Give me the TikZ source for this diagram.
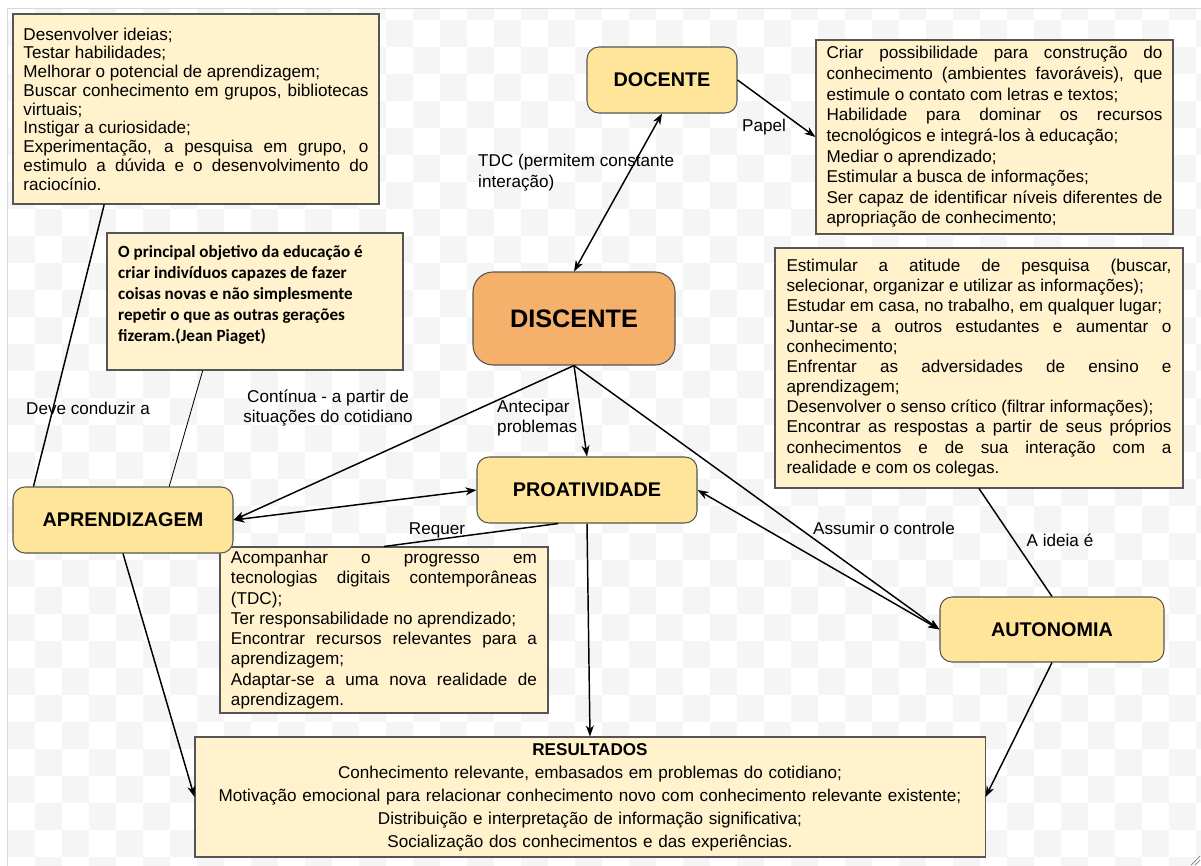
\documentclass[tikz,border=0pt]{standalone}
\usepackage{fontspec}
\setmainfont{Liberation Sans}
\newfontfamily\calibri{Carlito}
\usetikzlibrary{arrows.meta,calc}
\definecolor{boxfill}{HTML}{FFF2CC}
\definecolor{nodefill}{HTML}{FFE599}
\definecolor{discfill}{HTML}{F5B06B}
\definecolor{edgecol}{HTML}{555555}
\definecolor{checker}{HTML}{F5F5F5}
\definecolor{framecol}{HTML}{D8D8D8}
\hyphenpenalty=10000
\exhyphenpenalty=10000
\begin{document}
\begin{tikzpicture}[x=0.03cm,y=-0.03cm,
  textbox/.style={draw=edgecol, line width=0.9pt, fill=boxfill, inner sep=0pt, align=justify},
  concept/.style={draw=edgecol, line width=0.9pt, fill=nodefill, rounded corners=0.36cm, inner sep=0pt,
    font=\fontsize{16.9pt}{20pt}\selectfont\bfseries, minimum width=6.6cm, minimum height=1.98cm},
  lbl/.style={inner sep=0pt, font=\fontsize{14.6pt}{17.6pt}\selectfont},
  conn/.style={line width=1.25pt, black},
  arr/.style={conn, -{Stealth[length=3.3mm,width=2.4mm,inset=1mm]}},
  dbl/.style={conn, {Stealth[length=3.3mm,width=2.4mm,inset=1mm]}-{Stealth[length=3.3mm,width=2.4mm,inset=1mm]}},
  plain/.style={conn},
]
\useasboundingbox (0,0) rectangle (1201,866);
\fill[white] (0,0) rectangle (1201,866);
\begin{scope}
  \clip (7,8) rectangle (1201,866);
  \foreach \i in {0,...,44}{
    \foreach \j in {-1,...,31}{
      \pgfmathtruncatemacro\chk{mod(\i+\j+2,2)}
      \ifnum\chk=0
        \fill[checker] ({8+27*\i},{20+27*\j}) rectangle ++(27,27);
      \fi
    }
  }
\end{scope}
\draw[framecol, line width=0.8pt] (7,866) -- (7,8) -- (1201,8);
\draw[gray, line width=0.6pt] (1191,865) -- (1200,856) (1195,865) -- (1200,860);

% text boxes
\node[textbox, minimum width=10.98cm, minimum height=5.7cm, text width=10.35cm,
  font=\fontsize{14.6pt}{16pt}\selectfont] (TL) at (196,109) {Desenvolver ideias;\\
Testar habilidades;\\
Melhorar o potencial de aprendizagem;\\
Buscar conhecimento em grupos, bibliotecas\linebreak virtuais;\\
Instigar a curiosidade;\\
Experimentação, a pesquisa em grupo, o\linebreak estimulo a dúvida e o desenvolvimento do\linebreak raciocínio.};

\node[textbox, minimum width=8.88cm, minimum height=4.11cm] (Q) at (255,301.5) {};
\node[inner sep=0pt, anchor=north west, align=left, font=\calibri\bfseries\fontsize{14.6pt}{17.9pt}\selectfont] (Qt) at (118,245)
{O principal objetivo da educação é\\criar indivíduos capazes de fazer\\coisas novas e não simplesmente\\repetir o que as outras gerações\\fizeram.(Jean Piaget)};

\node[textbox, minimum width=10.71cm, minimum height=5.82cm, text width=10.08cm,
  font=\fontsize{14.6pt}{17.6pt}\selectfont] (TR) at (994.5,137) {Criar possibilidade para construção do\linebreak conhecimento (ambientes favoráveis), que\linebreak estimule o contato com letras e textos;\\
Habilidade para dominar os recursos\linebreak tecnológicos e integrá-los à educação;\\
Mediar o aprendizado;\\
Estimular a busca de informações;\\
Ser capaz de identificar níveis diferentes de\linebreak apropriação de conhecimento;};

\node[textbox, minimum width=12.24cm, minimum height=7.2cm, text width=11.55cm,
  font=\fontsize{14.6pt}{17.2pt}\selectfont] (R) at (979,368) {Estimular a atitude de pesquisa (buscar,\linebreak selecionar, organizar e utilizar as informações);\\
Estudar em casa, no trabalho, em qualquer lugar;\\
Juntar-se a outros estudantes e aumentar o\linebreak conhecimento;\\
Enfrentar as adversidades de ensino e\linebreak aprendizagem;\\
Desenvolver o senso crítico (filtrar informações);\\
Encontrar as respostas a partir de seus próprios\linebreak conhecimentos e de sua interação com a\linebreak realidade e com os colegas.};

\node[textbox, minimum width=9.84cm, minimum height=4.98cm, text width=9.18cm,
  font=\fontsize{14.6pt}{17.3pt}\selectfont] (RQ) at (384,630) {Acompanhar o progresso em\linebreak tecnologias digitais contemporâneas\linebreak (TDC);\\
Ter responsabilidade no aprendizado;\\
Encontrar recursos relevantes para a\linebreak aprendizagem;\\
Adaptar-se a uma nova realidade de\linebreak aprendizagem.};

\node[textbox, align=center, minimum width=23.7cm, minimum height=3.6cm, text width=23cm,
  font=\fontsize{14.6pt}{19.6pt}\selectfont] (RS) at (590,797) {{\bfseries RESULTADOS}\\
Conhecimento relevante, embasados em problemas do cotidiano;\\
Motivação emocional para relacionar conhecimento novo com conhecimento relevante existente;\\
Distribuição e interpretação de informação significativa;\\
Socialização dos conhecimentos e das experiências.};

% concept nodes
\node[concept, minimum width=4.5cm] (D) at (662,80) {DOCENTE};
\node[concept, fill=discfill, minimum width=6.06cm, minimum height=2.79cm, rounded corners=0.6cm,
  font=\fontsize{21.6pt}{26pt}\selectfont\bfseries] (DI) at (574,318.5) {DISCENTE};
\node[concept] (A) at (123,520) {APRENDIZAGEM};
\node[concept] (P) at (587,490) {PROATIVIDADE};
\node[concept, minimum width=6.72cm, minimum height=1.95cm] (AU) at (1052,629.5) {AUTONOMIA};

% connectors
\draw[dbl] (DI.north) -- (D.south);
\draw[arr] (D.east) -- (TR.west);
\draw[arr] (DI.south) -- (A.east);
\draw[dbl] (A.east) -- (P.west);
\draw[arr] (DI.south) -- (P.north);
\draw[arr] (DI.south) -- (AU.west);
\draw[dbl] (P.east) -- (AU.west);
\draw[plain] ($(P.south west)!0.37!(P.south east)$) -- (RQ.north);
\draw[arr] (P.south) -- (RS.north);
\draw[arr] (A.south) -- (RS.west);
\draw[arr] (AU.south) -- (RS.east);
\draw[plain] ($(TL.south west)!0.25!(TL.south east)$) -- ($(A.north west)!0.095!(A.north east)$);
\draw[line width=0.7pt] ($(Q.south west)!0.324!(Q.south east)$) -- ($(A.north west)!0.709!(A.north east)$);
\draw[plain] (R.south) -- (AU.north);

% labels
\node[lbl, anchor=west, align=left, font=\fontsize{14.6pt}{17.9pt}\selectfont] (l1) at (478,172.5) {TDC (permitem constante\\interação)};
\node[lbl] (l2) at (764,127) {Papel};
\node[lbl] (l3) at (88,408) {Deve conduzir a};
\node[lbl, align=center, font=\fontsize{14.6pt}{17pt}\selectfont] (l4) at (328,408) {Contínua - a partir de\\situações do cotidiano};
\node[lbl, anchor=west, align=left, font=\fontsize{14.6pt}{17pt}\selectfont] (l5) at (497,418) {Antecipar\\problemas};
\node[lbl] (l6) at (437,530) {Requer};
\node[lbl] (l7) at (884,528) {Assumir o controle};
\node[lbl] (l8) at (1060,540) {A ideia é};
\end{tikzpicture}
\end{document}
